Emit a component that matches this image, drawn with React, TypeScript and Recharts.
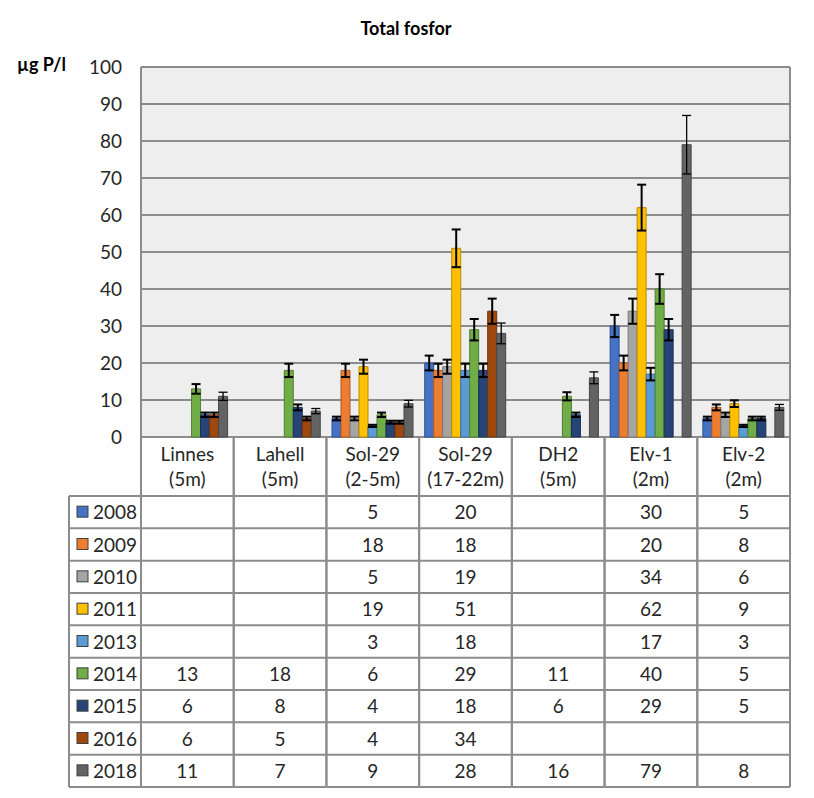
import React from "react";
import { BarChart, Bar, XAxis, YAxis, CartesianGrid, ErrorBar } from "recharts";

// categories (x axis / table columns)
const categories = [
  "Linnes|(5m)",
  "Lahell|(5m)",
  "Sol-29|(2-5m)",
  "Sol-29|(17-22m)",
  "DH2|(5m)",
  "Elv-1|(2m)",
  "Elv-2|(2m)",
];

const years = ["2008", "2009", "2010", "2011", "2013", "2014", "2015", "2016", "2018"];

// µg P/l per station, one array per year (null = not sampled)
const v2008 = [null, null, 5, 20, null, 30, 5];
const v2009 = [null, null, 18, 18, null, 20, 8];
const v2010 = [null, null, 5, 19, null, 34, 6];
const v2011 = [null, null, 19, 51, null, 62, 9];
const v2013 = [null, null, 3, 18, null, 17, 3];
const v2014 = [13, 18, 6, 29, 11, 40, 5];
const v2015 = [6, 8, 4, 18, 6, 29, 5];
const v2016 = [6, 5, 4, 34, null, null, null];
const v2018 = [11, 7, 9, 28, 16, 79, 8];

const yTicks = [0, 10, 20, 30, 40, 50, 60, 70, 80, 90, 100];

// error bars in the original are a fixed percentage of the value
const ERROR_FRACTION = 0.1;

const seriesValues = [v2008, v2009, v2010, v2011, v2013, v2014, v2015, v2016, v2018];
const colors = ["#4472C4", "#ED7D31", "#A5A5A5", "#FFC000", "#5B9BD5", "#70AD47", "#264478", "#9E480E", "#636363"];
const outlines = ["#2F528F", "#AE5A21", "#787878", "#BC8C00", "#41719C", "#507E32", "#1A2F52", "#6F320A", "#474747"];

const data = categories.map((name, i) => {
  const row: Record<string, any> = { name };
  years.forEach((yr, s) => {
    const v = seriesValues[s][i];
    row["y" + yr] = v;
    row["e" + yr] = v == null ? null : v * ERROR_FRACTION;
  });
  return row;
});

const W = 814;
const H = 798;
const PLOT_LEFT = 141;
const PLOT_RIGHT = 790;
const PLOT_TOP = 67;
const PLOT_BOTTOM = 437;
const TABLE_LEFT = 69;
const HEADER_BOTTOM = 496;
const TABLE_BOTTOM = 787;
const ROW_H = (TABLE_BOTTOM - HEADER_BOTTOM) / years.length;
const COL_W = (PLOT_RIGHT - PLOT_LEFT) / categories.length;
const Y_AXIS_W = 50;

const FONT = "Lato, 'Noto Sans', sans-serif";
const GRID = "#8C8C8C";
const TEXT = "#262626";
const FS = 19;

function TableColumn(props: any) {
  const { x, payload, index } = props;
  const col = payload.index ?? index;
  const [l1, l2] = String(payload.value).split("|");
  const left = x - COL_W / 2;
  const right = x + COL_W / 2;
  const last = col === categories.length - 1;
  return (
    <g>
      <text x={x} y={461} textAnchor="middle" fontSize={FS} fontFamily={FONT} fill={TEXT}>
        {l1}
      </text>
      <text x={x} y={486} textAnchor="middle" fontSize={FS} fontFamily={FONT} fill={TEXT}>
        {l2}
      </text>
      {years.map((yr, r) => {
        const v = seriesValues[r][col];
        return v == null ? null : (
          <text
            key={yr}
            x={x}
            y={HEADER_BOTTOM + ROW_H * r + ROW_H / 2 + 7}
            textAnchor="middle"
            fontSize={FS}
            fontFamily={FONT}
            fill={TEXT}
          >
            {v}
          </text>
        );
      })}
      {years.map((yr, r) => (
        <line key={"h" + yr} x1={left} x2={right} y1={HEADER_BOTTOM + ROW_H * r} y2={HEADER_BOTTOM + ROW_H * r} stroke={GRID} strokeWidth={2} />
      ))}
      <line x1={left} x2={right} y1={TABLE_BOTTOM} y2={TABLE_BOTTOM} stroke={GRID} strokeWidth={2} />
      <line x1={left} x2={left} y1={PLOT_BOTTOM} y2={TABLE_BOTTOM} stroke={GRID} strokeWidth={2} />
      <line x1={right} x2={right} y1={last ? PLOT_TOP : PLOT_BOTTOM} y2={TABLE_BOTTOM} stroke={GRID} strokeWidth={2} />
    </g>
  );
}

export default function App() {
  return (
    <div style={{ position: "absolute", left: 0, top: 0, width: W, height: H, background: "#fff" }}>
      <BarChart
        width={W}
        height={H}
        data={data}
        margin={{ top: PLOT_TOP, right: W - PLOT_RIGHT, bottom: 0, left: PLOT_LEFT - Y_AXIS_W }}
        barCategoryGap="6%"
        barGap={0}
      >
        <CartesianGrid vertical={false} fill="#EEEEEE" stroke={GRID} strokeWidth={2} />
        <XAxis
          dataKey="name"
          height={H - PLOT_BOTTOM}
          interval={0}
          tickLine={false}
          axisLine={false}
          tick={<TableColumn />}
        />
        <YAxis
          width={Y_AXIS_W}
          domain={[0, 100]}
          ticks={yTicks}
          interval={0}
          tickLine={false}
          tickSize={0}
          tickMargin={19}
          axisLine={{ stroke: GRID, strokeWidth: 2 }}
          tick={{ fontSize: FS, fontFamily: FONT, fill: TEXT }}
        />
        {years.map((yr, s) => (
          <Bar
            key={yr}
            dataKey={"y" + yr}
            name={yr}
            fill={colors[s]}
            stroke={outlines[s]}
            strokeWidth={1}
            isAnimationActive={false}
          >
            <ErrorBar
              dataKey={"e" + yr}
              width={4.5}
              stroke="#000"
              strokeWidth={yr === "2018" ? 1.3 : 2}
              isAnimationActive={false}
            />
          </Bar>
        ))}
      </BarChart>
      <svg
        width={W}
        height={H}
        style={{ position: "absolute", left: 0, top: 0, pointerEvents: "none" }}
      >
        <text x={406} y={35} textAnchor="middle" fontSize={18} fontWeight="bold" fontFamily={FONT} fill="#000">
          Total fosfor
        </text>
        <text x={17} y={71} fontSize={18} fontWeight="bold" fontFamily={FONT} fill="#000">
          µg P/l
        </text>
        <line x1={TABLE_LEFT} x2={TABLE_LEFT} y1={HEADER_BOTTOM} y2={TABLE_BOTTOM} stroke={GRID} strokeWidth={2} />
        {years.map((yr, r) => {
          const top = HEADER_BOTTOM + ROW_H * r;
          return (
            <g key={yr}>
              <line x1={TABLE_LEFT} x2={PLOT_LEFT} y1={top} y2={top} stroke={GRID} strokeWidth={2} />
              <rect x={77} y={top + ROW_H / 2 - 6} width={11} height={11} fill={colors[r]} stroke="#404040" strokeWidth={1} />
              <text x={93} y={top + ROW_H / 2 + 7} fontSize={FS} fontFamily={FONT} fill={TEXT}>
                {yr}
              </text>
            </g>
          );
        })}
        <line x1={TABLE_LEFT} x2={PLOT_LEFT} y1={TABLE_BOTTOM} y2={TABLE_BOTTOM} stroke={GRID} strokeWidth={2} />
      </svg>
    </div>
  );
}
